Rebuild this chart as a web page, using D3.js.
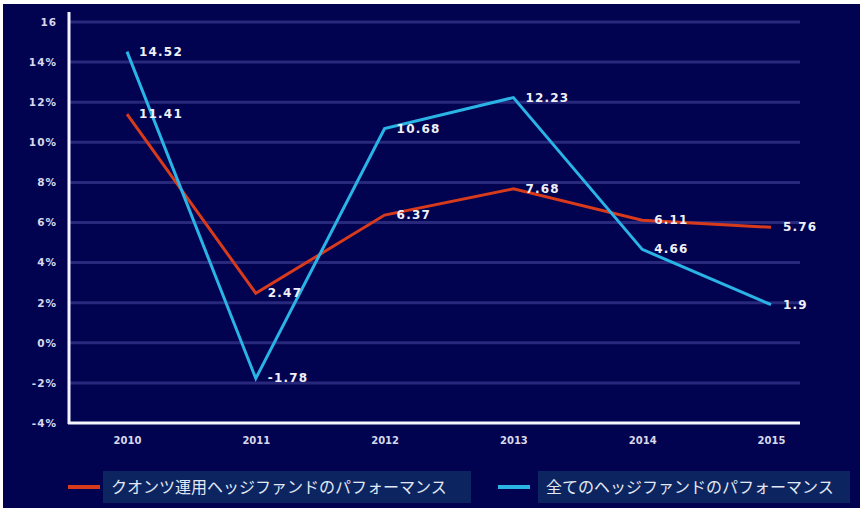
<!DOCTYPE html>
<html><head><meta charset="utf-8">
<script src="https://cdn.jsdelivr.net/npm/d3@7"></script>
<style>body{margin:0;background:#fff}svg{display:block}</style>
</head><body><svg id="c" width="860" height="508"></svg>
<script>
const years = ["2010","2011","2012","2013","2014","2015"];
const quant = [11.41, 2.47, 6.37, 7.68, 6.11, 5.76];
const allHF = [14.52, -1.78, 10.68, 12.23, 4.66, 1.9];
const yTicks = [16,14,12,10,8,6,4,2,0,-2,-4];
const seriesNames = ["クオンツ運用ヘッジファンドのパフォーマンス","全てのヘッジファンドのパフォーマンス"];
const colors = ["#d83a1c","#2ab4e6"];

const svg = d3.select("#c");
svg.append("rect").attr("x",3).attr("y",4).attr("width",857).attr("height",504).attr("fill","#010350");

const x = d3.scalePoint().domain(years).range([127,771]);
const y = d3.scaleLinear().domain([-4,16]).range([423,22]);

// gridlines
svg.append("g").selectAll("line").data(yTicks.filter(d=>d>-4)).join("line")
  .attr("x1",70).attr("x2",800).attr("y1",d=>y(d)).attr("y2",d=>y(d))
  .attr("stroke","#28297c").attr("stroke-width",3);

// y axis
const ya = svg.append("g").attr("transform","translate(69,0)")
  .call(d3.axisLeft(y).tickValues(yTicks).tickSize(0).tickPadding(12)
    .tickFormat(d=>d===16?"16":d+"%"));
ya.select(".domain").attr("stroke","#f4f4ff").attr("stroke-width",3).attr("d","M0,12V424");
ya.selectAll("text").attr("fill","#d8d8ea").attr("font-family","DejaVu Sans").attr("font-weight","bold").attr("font-size",10.5).attr("letter-spacing",1);

// x axis
const xa = svg.append("g").attr("transform","translate(0,423)")
  .call(d3.axisBottom(x).tickSize(0).tickPadding(14));
xa.select(".domain").attr("stroke","#f4f4ff").attr("stroke-width",3).attr("d","M68,0H800");
xa.selectAll("text").attr("fill","#d8d8ea").attr("font-family","DejaVu Sans").attr("font-weight","bold").attr("font-size",10);

const line = d3.line().x((d,i)=>x(years[i])).y(d=>y(d));
[quant, allHF].forEach((s,k)=>{
  svg.append("path").datum(s).attr("d",line).attr("fill","none")
    .attr("stroke",colors[k]).attr("stroke-width",3);
});
[quant, allHF].forEach((s,k)=>{
  svg.append("g").selectAll("text").data(s).join("text")
    .attr("x",(d,i)=>x(years[i])+12).attr("y",d=>y(d)+4)
    .attr("fill","#f0f0f8").attr("font-family","DejaVu Sans").attr("font-weight","bold")
    .attr("font-size",12).attr("letter-spacing",1.2).text(d=>d);
});

// legend
const lg = [{lx:68, bx:103, bw:368}, {lx:498, bx:538, bw:312}];
lg.forEach((p,k)=>{
  svg.append("line").attr("x1",p.lx).attr("x2",p.lx+32).attr("y1",487).attr("y2",487)
    .attr("stroke",colors[k]).attr("stroke-width",4);
  svg.append("rect").attr("x",p.bx).attr("y",471).attr("width",p.bw).attr("height",32).attr("fill","#0c2560");
  svg.append("text").attr("x",p.bx+8).attr("y",493).attr("fill","#e4e8f4")
    .attr("font-family","Noto Sans CJK JP").attr("font-size",16).text(seriesNames[k]);
});
</script></body></html>
